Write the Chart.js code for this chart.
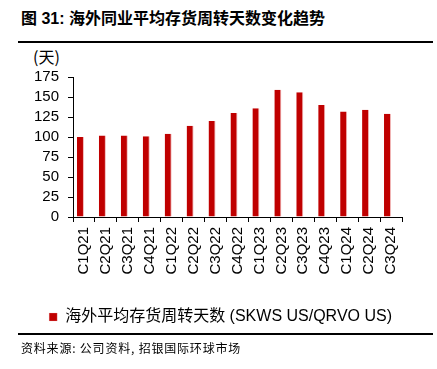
<!DOCTYPE html>
<html>
<head>
<meta charset="utf-8">
<script src="https://cdn.jsdelivr.net/npm/chart.js@4"></script>
<style>
  body { margin: 0; width: 437px; height: 369px; background: #fff; position: relative; overflow: hidden;
         font-family: "Liberation Sans", "Noto Sans CJK SC", sans-serif; }
  #title { position: absolute; left: 21px; top: 5px; font-size: 16px; font-weight: bold; color: #000;
           font-family: "Liberation Sans", "Noto Sans CJK SC", sans-serif; }
  .rule { position: absolute; left: 18px; width: 415px; height: 2px; background: #000; }
  #unit { position: absolute; left: 33px; top: 44px; font-size: 16px; color: #000;
          font-family: "Noto Sans CJK SC", sans-serif; }
  #source { position: absolute; left: 21px; top: 339px; font-size: 12px; color: #000; letter-spacing: 0.8px;
            font-family: "Noto Sans CJK SC", sans-serif; }
  canvas { position: absolute; left: 0; top: 0; }
</style>
</head>
<body>
<div id="title">图 31: 海外同业平均存货周转天数变化趋势</div>
<div class="rule" style="top:41px"></div>
<div id="unit">(天)</div>
<canvas id="chart" width="437" height="369"></canvas>
<div class="rule" style="top:333px"></div>
<div id="source">资料来源: 公司资料, 招银国际环球市场</div>
<script>
const quarters = ['C1Q21', 'C2Q21', 'C3Q21', 'C4Q21', 'C1Q22', 'C2Q22', 'C3Q22', 'C4Q22',
                  'C1Q23', 'C2Q23', 'C3Q23', 'C4Q23', 'C1Q24', 'C2Q24', 'C3Q24'];
const inventoryDays = [100, 102, 102, 101, 104, 114, 120, 130, 136, 159, 156, 140, 132, 134, 129];
const seriesName = '海外平均存货周转天数 (SKWS US/QRVO US)';
const yTicks = [0, 25, 50, 75, 100, 125, 150, 175];

const ctx = document.getElementById('chart').getContext('2d');
new Chart(ctx, {
  type: 'bar',
  data: {
    labels: quarters,
    datasets: [{
      label: seriesName,
      data: inventoryDays,
      backgroundColor: '#C00000',
      borderColor: '#F2B8B8',
      borderWidth: { top: 0, left: 0, right: 1, bottom: 0 },
      categoryPercentage: 0.64,
      barPercentage: 1.0
    }, {
      // empty slot so the bars sit left of each category centre, as in the source
      label: '',
      data: quarters.map(() => null),
      categoryPercentage: 0.64,
      barPercentage: 1.0
    }]
  },
  options: {
    responsive: false,
    animation: false,
    layout: { padding: { top: 77, left: 0, right: 35, bottom: 34 } },
    scales: {
      x: {
        grid: { display: true, drawOnChartArea: false, tickLength: 5, color: '#000', offset: true },
        border: { color: '#000', width: 1 },
        ticks: {
          autoSkip: false, minRotation: 90, maxRotation: 90, padding: 5, color: '#000',
          font: { family: 'Liberation Sans', size: 15 }
        },
        afterFit: scale => { scale.height = 82; }
      },
      y: {
        min: 0, max: 175,
        afterBuildTicks: scale => { scale.ticks = yTicks.map(v => ({ value: v })); },
        grid: { display: true, drawOnChartArea: false, tickLength: 5, color: '#000' },
        border: { color: '#000', width: 1 },
        ticks: { autoSkip: false, padding: 9, color: '#000', font: { family: 'Liberation Sans', size: 15 } },
        afterFit: scale => { scale.width = 73; }
      }
    },
    plugins: {
      legend: {
        position: 'bottom',
        align: 'end',
        labels: {
          boxWidth: 8, boxHeight: 8, color: '#000',
          font: { family: "'Liberation Sans', 'Noto Sans CJK SC'", size: 16 },
          filter: item => item.text !== ''
        }
      },
      tooltip: { enabled: false }
    }
  }
});
</script>
</body>
</html>
